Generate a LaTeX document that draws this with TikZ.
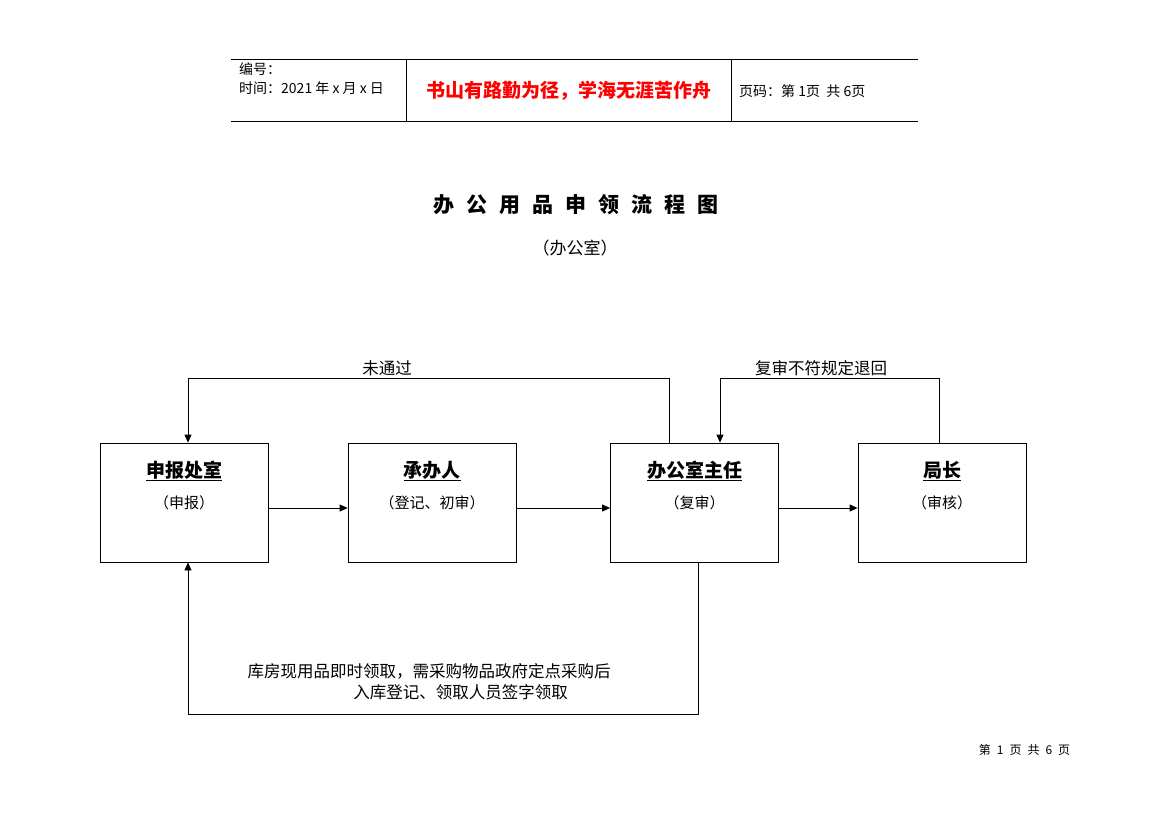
\documentclass[tikz,border=0pt]{standalone}
\usepackage{fontspec}
\setmainfont{Noto Sans CJK SC}
\usetikzlibrary{arrows.meta}
\begin{document}
\begin{tikzpicture}[x=1pt,y=-1pt,
  box/.style={draw,line width=0.8pt,minimum width=168pt,minimum height=119pt,inner sep=0pt},
  ttl/.style={font=\fontsize{19}{19}\selectfont\bfseries,inner sep=0pt},
  sub/.style={font=\fontsize{15}{15}\selectfont,inner sep=0pt},
  lbl/.style={font=\fontsize{16.5}{16.5}\selectfont,inner sep=0pt},
  hdr/.style={font=\fontsize{14}{14}\selectfont,inner sep=0pt,anchor=west},
  arr/.style={line width=0.8pt,-{Triangle[length=8pt,width=7pt]}},
  ln/.style={line width=0.8pt}]
\useasboundingbox (0,0) rectangle (1169,826);
% header table
\coordinate (hTL) at (231,59);
\coordinate (hTR) at (918,59);
\coordinate (hBL) at (231,121);
\coordinate (hBR) at (918,121);
\draw[ln] (hTL) -- (hTR);
\draw[ln] (hBL) -- (hBR);
\coordinate (v1t) at (406,59); \coordinate (v1b) at (406,121);
\coordinate (v2t) at (731,59); \coordinate (v2b) at (731,121);
\draw[ln] (v1t) -- (v1b);
\draw[ln] (v2t) -- (v2b);
\node[hdr] (h1) at (239,69) {编号：};
\node[hdr] (h2) at (239,88) {时间：2021\ 年\ x\ 月\ x\ 日};
\node[font=\fontsize{19}{19}\selectfont\bfseries,text=red,inner sep=0pt] (h3) at (569,91) {书山有路勤为径，学海无涯苦作舟};
\node[hdr] (h4) at (739,91) {页码：第 1页\ \ 共 6页};
% title
\node[font=\fontsize{21}{21}\selectfont\bfseries,inner sep=0pt] (title) at (576,205) {办\hspace{12pt}公\hspace{12pt}用\hspace{12pt}品\hspace{12pt}申\hspace{12pt}领\hspace{12pt}流\hspace{12pt}程\hspace{12pt}图};
\node[font=\fontsize{17}{17}\selectfont,inner sep=0pt] (subtitle) at (575,248) {（办公室）};
% boxes
\node[box] (b1) at (184,502.5) {};
\node[box] (b2) at (432,502.5) {};
\node[box] (b3) at (694.5,502.5) {};
\node[box] (b4) at (942,502.5) {};
\node[ttl] (t1) at (184,471) {\underline{申报处室}};
\node[ttl] (t2) at (432,471) {\underline{承办人}};
\node[ttl] (t3) at (694.5,471) {\underline{办公室主任}};
\node[ttl] (t4) at (942,471) {\underline{局长}};
\node[sub] (s1) at (184,503) {（申报）};
\node[sub] (s2) at (432,503) {（登记、初审）};
\node[sub] (s3) at (694.5,503) {（复审）};
\node[sub] (s4) at (942,503) {（审核）};
% horizontal arrows
\draw[arr] ([yshift=-5.5pt]b1.east) -- ([yshift=-5.5pt]b2.west);
\draw[arr] ([yshift=-5.5pt]b2.east) -- ([yshift=-5.5pt]b3.west);
\draw[arr] ([yshift=-5.5pt]b3.east) -- ([yshift=-5.5pt]b4.west);
% loops
\coordinate (top) at (0,378);
\coordinate (bot) at (0,714);
\draw[arr] ([xshift=-25.5pt]b3.north) |- ([xshift=4pt]b1.north |- top) -- ([xshift=4pt]b1.north);
\draw[arr] ([xshift=-3pt]b4.north) |- ([xshift=25.5pt]b3.north |- top) -- ([xshift=25.5pt]b3.north);
\draw[arr] ([xshift=3.5pt]b3.south) |- ([xshift=4pt]b1.south |- bot) -- ([xshift=4pt]b1.south);
\node[lbl] (l1) at (387,368) {未通过};
\node[lbl] (l2) at (821,368) {复审不符规定退回};
\node[lbl] (l3) at (429,671) {库房现用品即时领取，需采购物品政府定点采购后};
\node[lbl] (l4) at (460.5,692) {入库登记、领取人员签字领取};
% footer
\node[font=\fontsize{12}{12}\selectfont,inner sep=0pt] (foot) at (1024.5,750) {第\hspace{6pt}1\hspace{6pt}页\hspace{6pt}共\hspace{6pt}6\hspace{6pt}页};
\end{tikzpicture}
\end{document}
